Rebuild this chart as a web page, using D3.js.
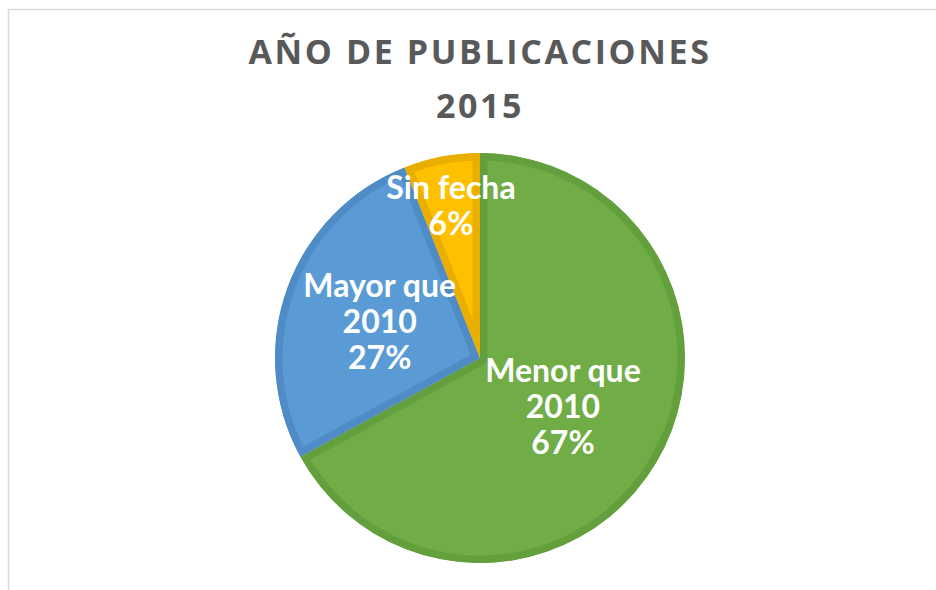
<!DOCTYPE html>
<html>
<head>
<meta charset="utf-8">
<script src="https://cdn.jsdelivr.net/npm/d3@7"></script>
<style>
  body { margin: 0; background: #fff; }
  text { font-family: "Century Gothic", "Lato", "Noto Sans", sans-serif; font-weight: bold; }
  text.title { font-family: "Century Gothic", "Open Sans", sans-serif; }
</style>
</head>
<body>
<div id="chart"></div>
<script>
// data
var labels = ["Menor que 2010", "Mayor que 2010", "Sin fecha"];
var values = [67, 27, 6];
var fills = ["#70AD47", "#5B9BD5", "#FFC000"];
var strokes = ["#63A03D", "#4F8CC6", "#EAAE00"];
var titleLines = ["AÑO DE PUBLICACIONES", "2015"];

var width = 936, height = 590,
  cx = 480, cy = 358, radius = 205,
  // label distance from centre, as a share of radius (Excel "best fit")
  labelPos = [0.47, 0.52, 0.755];

var svg = d3.select("#chart")
  .append("svg")
  .attr("width", width)
  .attr("height", height);

// chart area frame (only top and left visible)
svg.append("rect")
  .attr("x", 8.5)
  .attr("y", 9.5)
  .attr("width", width + 20)
  .attr("height", height + 20)
  .attr("fill", "none")
  .attr("stroke", "#d9d9d9")
  .attr("stroke-width", 1.5);

// title
svg.selectAll(".title")
  .data(titleLines)
  .enter()
  .append("text")
  .attr("class", "title")
  .attr("x", 480)
  .attr("y", (d, i) => 64 + i * 54)
  .attr("text-anchor", "middle")
  .style("font-size", "34px")
  .style("letter-spacing", "2.6px")
  .attr("fill", "#595959")
  .text(d => d);

var data = values.map((v, i) => ({ label: labels[i], value: v, i: i }));

var pie = d3.pie()
  .sort(null)
  .value(d => d.value);

var arc = d3.arc()
  .innerRadius(0)
  .outerRadius(radius);

var arcs = pie(data);

var g = svg.append("g")
  .attr("transform", "translate(" + cx + "," + cy + ")");

var defs = svg.append("defs");
defs.selectAll("clipPath")
  .data(arcs)
  .enter()
  .append("clipPath")
  .attr("id", d => "clip" + d.data.i)
  .append("path")
  .attr("d", arc);

// slices, border drawn inside each slice
g.selectAll(".slice")
  .data(arcs)
  .enter()
  .append("path")
  .attr("class", "slice")
  .attr("d", arc)
  .attr("fill", d => fills[d.data.i])
  .attr("stroke", d => strokes[d.data.i])
  .attr("stroke-width", 15)
  .attr("stroke-linejoin", "round")
  .attr("clip-path", d => "url(#clip" + d.data.i + ")");

// data labels
var total = d3.sum(values);
var lbl = g.selectAll(".lbl")
  .data(arcs)
  .enter()
  .append("text")
  .attr("class", "lbl")
  .attr("text-anchor", "middle")
  .attr("fill", "#ffffff")
  .style("font-size", "32px")
  .attr("transform", function (d) {
    var r = radius * labelPos[d.data.i];
    var a = (d.startAngle + d.endAngle) / 2;
    return "translate(" + (Math.sin(a) * r) + "," + (-Math.cos(a) * r) + ")";
  });

lbl.each(function (d) {
  var words = d.data.label.split(" ");
  var lines;
  if (words.length > 2) lines = [words.slice(0, 2).join(" "), words.slice(2).join(" ")];
  else lines = [words.join(" ")];
  lines.push(Math.round(d.data.value / total * 100) + "%");
  var n = lines.length;
  d3.select(this).selectAll("tspan")
    .data(lines)
    .enter()
    .append("tspan")
    .attr("x", 0)
    .attr("y", (t, k) => (k - (n - 1) / 2) * 36 + 11)
    .text(t => t);
});
</script>
</body>
</html>
